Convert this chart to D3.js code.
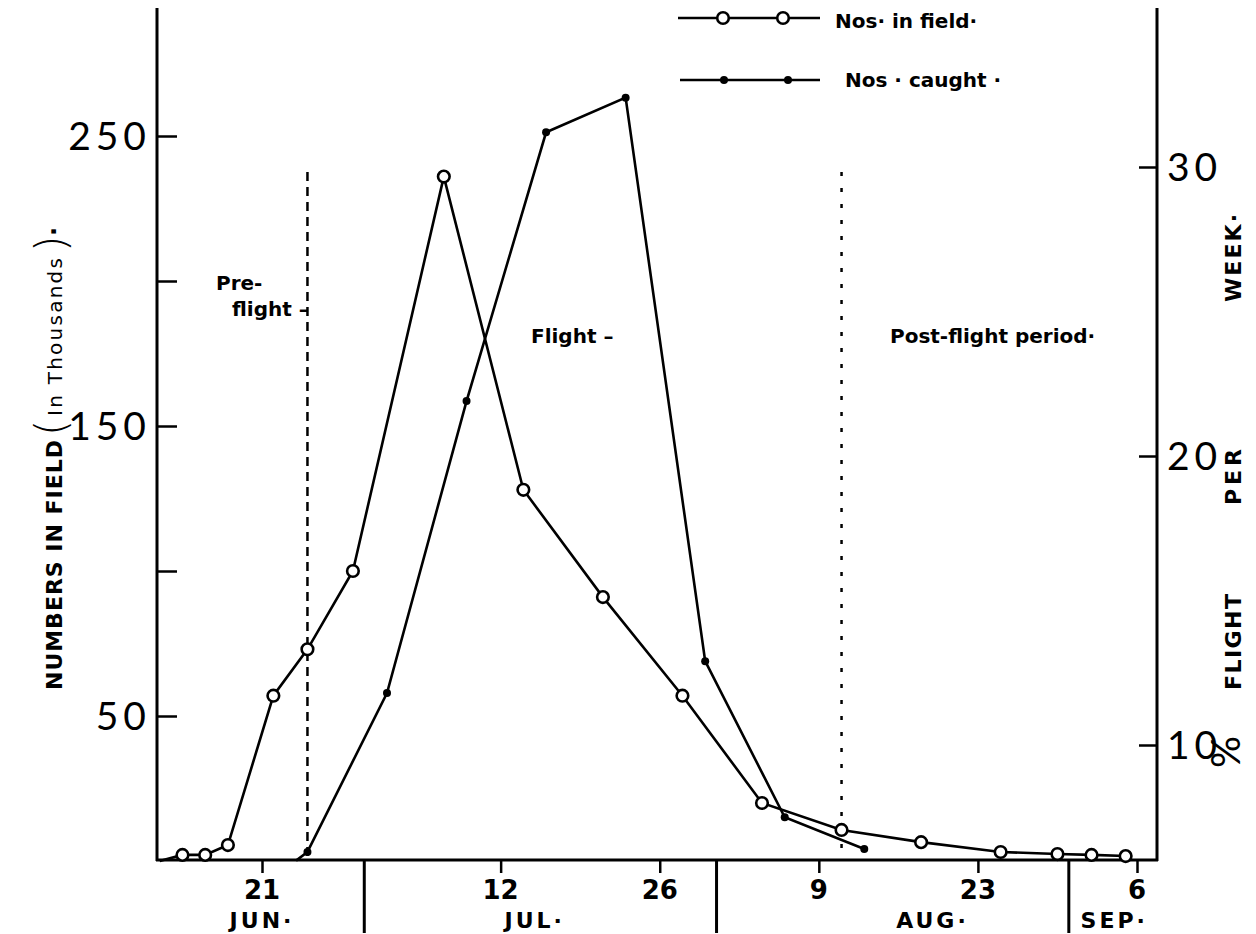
<!DOCTYPE html>
<html lang="en">
<head>
    <meta charset="UTF-8">
    <title>Numbers in field and flight per week</title>
    <script src="https://d3js.org/d3.v7.min.js"></script>
    <style>
        body { margin: 0; background: #fff; }
        svg { display: block; }
        .ax { stroke: #000; stroke-width: 3px; fill: none; }
        .tick-lbl { font-family: Lato, "DejaVu Sans", sans-serif; font-size: 39px; letter-spacing: 5px; fill: #000; }
        .lbl { font-family: "DejaVu Sans", sans-serif; font-weight: bold; fill: #000; }
    </style>
</head>
<body>
<svg width="1256" height="934"></svg>
<script>
    // ---- data ----
    const fieldDates = ["12 Jun","14 Jun","16 Jun","18 Jun","22 Jun","25 Jun","29 Jun","7 Jul","14 Jul",
        "21 Jul","28 Jul","4 Aug","11 Aug","18 Aug","25 Aug","30 Aug","2 Sep","5 Sep"];
    const fieldValues = [0, 2.1, 2.1, 5.5, 57, 73, 100, 236, 128, 91, 57, 20, 10.7, 6.5, 3.1, 2.4, 2.1, 1.7]; // thousands

    const caughtDates = ["24 Jun","25 Jun","2 Jul","9 Jul","16 Jul","23 Jul","30 Jul","6 Aug","13 Aug"];
    const caughtValues = [6.0, 6.3, 11.8, 21.9, 31.2, 32.4, 12.9, 7.5, 6.4]; // % flight per week

    const leftTicks = [50, 100, 150, 200, 250];
    const leftLabels = [50, 150, 250];
    const rightTicks = [10, 20, 30];
    const dayTicks = ["21 Jun","12 Jul","26 Jul","9 Aug","23 Aug","6 Sep"];
    const monthBreaks = ["30 Jun","31 Jul","31 Aug"];
    const monthNames = ["JUN·","JUL·","AUG·","SEP·"];
    const monthLabelAt = ["21 Jun","15 Jul","19 Aug","4 Sep"];
    const periodBounds = ["25 Jun","11 Aug"];

    const parse = d3.timeParse("%d %b");
    const svg = d3.select("svg");

    const x = d3.scaleTime()
        .domain([parse("21 Jun"), parse("6 Sep")])
        .range([262, 1137]);
    const y = d3.scaleLinear().domain([0, 250]).range([861, 136]);
    const yR = d3.scaleLinear().domain([0, 30]).range([1034, 167]);

    const frameL = 157, frameR = 1157, base = 860, frameT = 8;

    // frame
    svg.append("line").attr("class", "ax").attr("x1", frameL).attr("x2", frameL).attr("y1", frameT).attr("y2", base + 1);
    svg.append("line").attr("class", "ax").attr("x1", frameR).attr("x2", frameR).attr("y1", frameT).attr("y2", base + 1);
    svg.append("line").attr("class", "ax").attr("x1", frameL - 1).attr("x2", frameR + 1).attr("y1", base).attr("y2", base);

    // left axis
    const gl = svg.append("g").attr("transform", `translate(${frameL},0)`)
        .call(d3.axisRight(y).tickValues(leftTicks).tickSize(20).tickFormat(""));
    gl.select(".domain").remove();
    gl.selectAll(".tick line").attr("stroke", "#000").attr("stroke-width", 2.5);
    svg.selectAll(".ll").data(leftLabels).join("text")
        .attr("class", "tick-lbl")
        .attr("x", frameL - 6).attr("y", d => y(d) + 14)
        .attr("text-anchor", "end")
        .text(d => d);

    // right axis
    const gr = svg.append("g").attr("transform", `translate(${frameR},0)`)
        .call(d3.axisLeft(yR).tickValues(rightTicks).tickSize(18).tickFormat(""));
    gr.select(".domain").remove();
    gr.selectAll(".tick line").attr("stroke", "#000").attr("stroke-width", 2.5);
    svg.selectAll(".rl").data(rightTicks).join("text")
        .attr("class", "tick-lbl")
        .attr("x", frameR + 10).attr("y", d => yR(d) + 14)
        .text(d => d);

    // bottom axis ticks
    const gb = svg.append("g").attr("transform", `translate(0,${base})`)
        .call(d3.axisBottom(x).tickValues(dayTicks.map(parse)).tickSize(13).tickFormat(""));
    gb.select(".domain").remove();
    gb.selectAll(".tick line").attr("stroke", "#000").attr("stroke-width", 2.5);
    svg.selectAll(".dl").data(dayTicks).join("text")
        .attr("class", "lbl")
        .attr("x", d => x(parse(d))).attr("y", 899)
        .attr("text-anchor", "middle")
        .style("font-size", "26px")
        .text(d => parse(d).getDate());
    svg.selectAll(".mb").data(monthBreaks).join("line")
        .attr("x1", d => x(parse(d))).attr("x2", d => x(parse(d)))
        .attr("y1", base).attr("y2", 933)
        .attr("stroke", "#000").attr("stroke-width", 3);
    svg.selectAll(".ml").data(monthNames).join("text")
        .attr("class", "lbl")
        .attr("x", (d, i) => x(parse(monthLabelAt[i]))).attr("y", 928)
        .attr("text-anchor", "middle")
        .style("font-size", "22px").style("letter-spacing", "3px")
        .text(d => d);

    // period boundaries
    svg.selectAll(".pb").data(periodBounds).join("line")
        .attr("x1", d => x(parse(d))).attr("x2", d => x(parse(d)))
        .attr("y1", 172).attr("y2", base)
        .attr("stroke", "#000").attr("stroke-width", 2.5)
        .attr("stroke-dasharray", (d, i) => i === 0 ? "9,6" : "4,12");

    // period labels
    const pl = [
        {t: "Pre-", x: 216, y: 290},
        {t: "flight –", x: 232, y: 316},
        {t: "Flight –", x: 531, y: 343},
        {t: "Post-flight period·", x: 890, y: 343}
    ];
    svg.selectAll(".pl").data(pl).join("text")
        .attr("class", "lbl")
        .attr("x", d => d.x).attr("y", d => d.y)
        .style("font-size", "20px")
        .text(d => d.t);

    // series
    const field = fieldDates.map((d, i) => ({date: parse(d), v: fieldValues[i]}));
    const caught = caughtDates.map((d, i) => ({date: parse(d), v: caughtValues[i]}));

    svg.append("path").datum(field)
        .attr("d", d3.line().x(d => x(d.date)).y(d => y(d.v)))
        .attr("fill", "none").attr("stroke", "#000").attr("stroke-width", 2.6);
    svg.append("path").datum(caught)
        .attr("d", d3.line().x(d => x(d.date)).y(d => yR(d.v)))
        .attr("fill", "none").attr("stroke", "#000").attr("stroke-width", 2.6);

    svg.selectAll(".fc").data(field.slice(1)).join("circle")
        .attr("cx", d => x(d.date)).attr("cy", d => y(d.v)).attr("r", 5.8)
        .attr("fill", "#fff").attr("stroke", "#000").attr("stroke-width", 2.6);
    svg.selectAll(".cc").data(caught.slice(1)).join("circle")
        .attr("cx", d => x(d.date)).attr("cy", d => yR(d.v)).attr("r", 4)
        .attr("fill", "#000");

    // legend
    const leg = svg.append("g");
    leg.append("line").attr("x1", 678).attr("x2", 820).attr("y1", 18).attr("y2", 18)
        .attr("stroke", "#000").attr("stroke-width", 2.6);
    leg.selectAll(".lo").data([723, 783]).join("circle")
        .attr("cx", d => d).attr("cy", 18).attr("r", 5.8)
        .attr("fill", "#fff").attr("stroke", "#000").attr("stroke-width", 2.6);
    leg.append("text").attr("class", "lbl").attr("x", 835).attr("y", 28)
        .style("font-size", "20px").text("Nos· in field·");
    leg.append("line").attr("x1", 680).attr("x2", 820).attr("y1", 80).attr("y2", 80)
        .attr("stroke", "#000").attr("stroke-width", 2.6);
    leg.selectAll(".lc").data([724, 788]).join("circle")
        .attr("cx", d => d).attr("cy", 80).attr("r", 4).attr("fill", "#000");
    leg.append("text").attr("class", "lbl").attr("x", 845).attr("y", 87)
        .style("font-size", "20px").text("Nos · caught ·");

    // left axis title, rotated
    const lt = [
        {t: "NUMBERS   IN   FIELD", y: 690, size: 22, w: "bold", len: 250},
        {t: "(", y: 436, size: 42, w: "300"},
        {t: "In  Thousands", y: 416, size: 20, w: "normal", len: 158},
        {t: ")", y: 252, size: 42, w: "300"},
        {t: "·", y: 236, size: 24, w: "bold"}
    ];
    svg.selectAll(".lt").data(lt).join("text")
        .attr("class", "lbl")
        .attr("transform", d => `translate(${d.size > 30 ? 66 : 62},${d.y}) rotate(-90)`)
        .style("font-size", d => d.size + "px").style("font-weight", d => d.w)
        .attr("textLength", d => d.len || null)
        .attr("lengthAdjust", "spacing")
        .text(d => d.t);

    // right axis title, rotated, one word at a time
    svg.append("text").attr("class", "tick-lbl")
        .attr("transform", "translate(1240,768) rotate(-90)")
        .style("font-size", "40px").style("letter-spacing", "0px").text("%");
    const rt = [
        {t: "FLIGHT", y: 690, len: 96},
        {t: "PER", y: 505, len: 56},
        {t: "WEEK·", y: 302, len: 88}
    ];
    svg.selectAll(".rt").data(rt).join("text")
        .attr("class", "lbl")
        .attr("transform", d => `translate(1241,${d.y}) rotate(-90)`)
        .style("font-size", "22px")
        .attr("textLength", d => d.len).attr("lengthAdjust", "spacing")
        .text(d => d.t);
</script>
</body>
</html>
